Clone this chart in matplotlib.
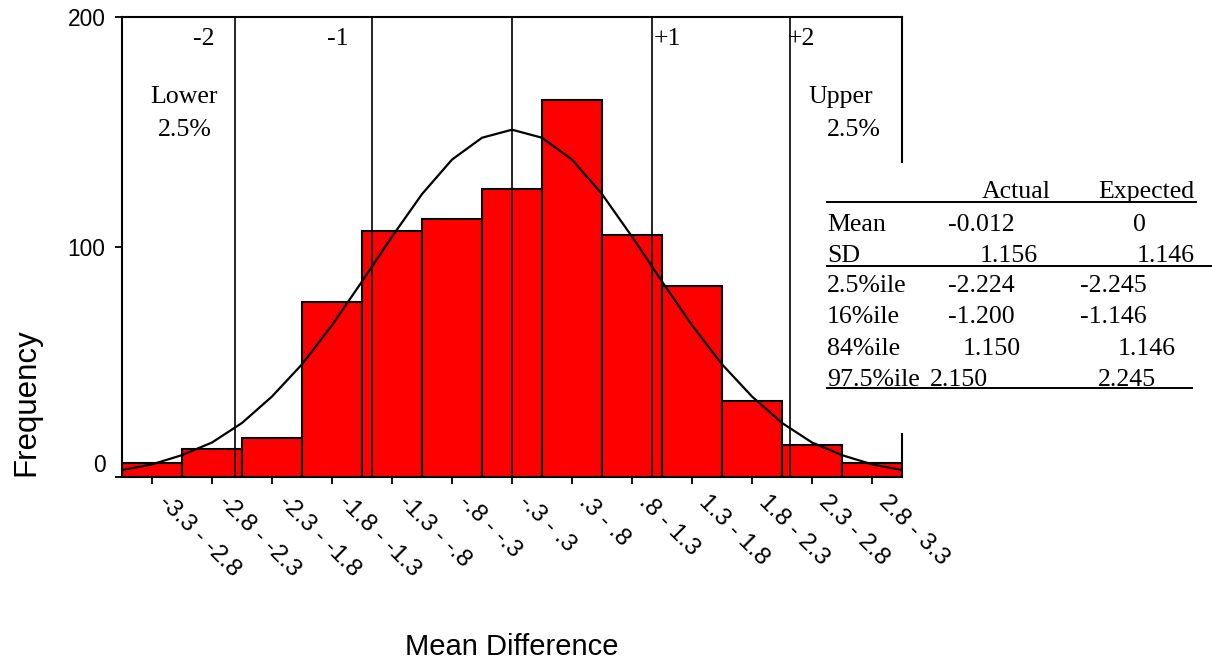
import matplotlib
matplotlib.use("Agg")
import matplotlib.pyplot as plt
import matplotlib.transforms as mtransforms
from matplotlib.patches import Rectangle
from matplotlib.lines import Line2D

# histogram bins (category axis) and counts
bin_labels = ["-3.3 - -2.8", "-2.8 - -2.3", "-2.3 - -1.8", "-1.8 - -1.3",
              "-1.3 - -.8", "-.8 - -.3", "-.3 - .3", ".3 - .8", ".8 - 1.3",
              "1.3 - 1.8", "1.8 - 2.3", "2.3 - 2.8", "2.8 - 3.3"]
frequency = [6, 12, 17, 76, 107, 112, 125, 164, 105, 83, 33, 14, 6]

# expected normal curve (x in bin units)
curve_x = [-0.5, 0.0, 0.5, 1.0, 1.5, 2.0, 2.5, 3.0, 3.5, 4.0, 4.5, 5.0, 5.5, 6.0,
           6.5, 7.0, 7.5, 8.0, 8.5, 9.0, 9.5, 10.0, 10.5, 11.0, 11.5, 12.0, 12.5]
curve_y = [3, 5.5, 9.5, 15, 23.5, 35, 49, 66, 85, 104.5, 123, 138, 147.5, 151,
           147.5, 138, 123, 104.5, 85, 66, 49, 35, 23.5, 15, 9.5, 5.5, 3]

# SD marker lines (bin units) and their labels
sd_line_x = [1.38, 3.67, 6.0, 8.33, 10.63]
sd_labels = ["-2", "-1", "+1", "+2"]

# summary table
table_cols = ["Actual", "Expected"]
row_labels = ["Mean", "SD", "2.5%ile", "16%ile", "84%ile", "97.5%ile"]
actual = ["-0.012", "1.156", "-2.224", "-1.200", "1.150", "2.150"]
expected = ["0", "1.146", "-2.245", "-1.146", "1.146", "2.245"]

W, H = 1212, 662
SERIF = "Liberation Serif"
SANS = "Liberation Sans"


def fx(px):
    return px / W


def fy(py):
    return 1 - py / H


def plot_chart(save_path="out.png"):
    fig = plt.figure(figsize=(W / 100, H / 100), dpi=100)
    ax = fig.add_axes([fx(122), fy(477), 780 / W, 460 / H])

    ax.bar(range(len(frequency)), frequency, width=1.0, color="#ff0000",
           edgecolor="black", linewidth=1.5, zorder=2)
    ax.plot(curve_x, curve_y, color="black", linewidth=1.6, zorder=3)
    ax.vlines(sd_line_x, 0, 200, color="black", linewidth=1.2, zorder=4)

    ax.set_xlim(-0.5, 12.5)
    ax.set_ylim(0, 200)
    for s in ax.spines.values():
        s.set_linewidth(1.5)

    ax.set_yticks([0, 100, 200])
    ax.set_yticklabels(["0", "100", "200"], family=SANS, fontsize=16.4)
    ax.tick_params(axis="y", length=5, width=1.3, pad=7)
    up = mtransforms.ScaledTranslation(0, 14 / 100, fig.dpi_scale_trans)
    lab0 = ax.get_yticklabels()[0]
    lab0.set_transform(lab0.get_transform() + up)

    ax.set_xticks(range(len(bin_labels)))
    ax.set_xticklabels(bin_labels, family=SANS, fontsize=17.5, rotation=-45,
                       ha="left", va="top", rotation_mode="anchor")
    ax.tick_params(axis="x", length=5, width=1.3, pad=5)
    shift = mtransforms.ScaledTranslation(18 / 100, 0, fig.dpi_scale_trans)
    for lab in ax.get_xticklabels():
        lab.set_transform(lab.get_transform() + shift)

    # labels near the SD lines
    tkw = dict(family=SERIF, fontsize=18.6, va="baseline", transform=fig.transFigure)
    fig.text(fx(215), fy(45), sd_labels[0], ha="right", **tkw)
    fig.text(fx(349), fy(45), sd_labels[1], ha="right", **tkw)
    fig.text(fx(654), fy(45), sd_labels[2], ha="left", **tkw)
    fig.text(fx(788), fy(45), sd_labels[3], ha="left", **tkw)
    fig.text(fx(150), fy(103), "Lower", ha="left", **tkw)
    fig.text(fx(158), fy(136), "2.5%", ha="left", **tkw)
    fig.text(fx(808), fy(103), "Upper", ha="left", **tkw)
    fig.text(fx(827), fy(136), "2.5%", ha="left", **tkw)

    # white panel for the table, hides the right spine behind it
    fig.patches.append(Rectangle((fx(812), fy(433)), 400 / W, 270 / H,
                                 transform=fig.transFigure, facecolor="white",
                                 edgecolor="none", zorder=5))
    tkw["zorder"] = 6
    fig.text(fx(982), fy(198), table_cols[0], ha="left", **tkw)
    fig.text(fx(1098), fy(198), table_cols[1], ha="left", **tkw)
    row_y = [231, 262, 292, 323, 355, 386]
    act_x = [948, 980, 948, 948, 963, 930]
    exp_x = [1133, 1137, 1080, 1080, 1118, 1098]
    for lbl, a, e, y, ax_, ex_ in zip(row_labels, actual, expected, row_y, act_x, exp_x):
        fig.text(fx(827), fy(y), lbl, ha="left", **tkw)
        fig.text(fx(ax_), fy(y), a, ha="left", **tkw)
        fig.text(fx(ex_), fy(y), e, ha="left", **tkw)
    for y, x1 in [(202, 1196), (266, 1212), (388, 1192)]:
        fig.add_artist(Line2D([fx(827), fx(x1)], [fy(y), fy(y)], color="black",
                              linewidth=1.4, transform=fig.transFigure, zorder=6))

    fig.text(fx(512), fy(655), "Mean Difference", family=SANS, fontsize=21,
             ha="center", va="baseline")
    fig.text(fx(26), fy(402), "Frequency", family=SANS, fontsize=22.5,
             ha="center", va="center", rotation=90)

    fig.savefig(save_path, dpi=100)
    print(f"Saved: {save_path}")


if __name__ == "__main__":
    plot_chart("out.png")
